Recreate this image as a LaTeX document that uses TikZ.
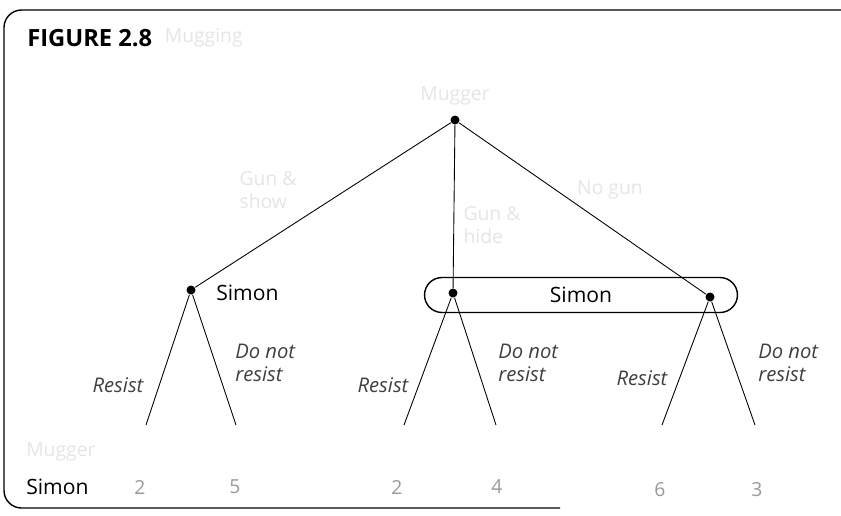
\documentclass[tikz,border=0pt]{standalone}
\usepackage{fontspec}
\setmainfont{Open Sans}
\usetikzlibrary{positioning}

\begin{document}
\begin{tikzpicture}[x=0.02cm,y=-0.02cm,line width=0.5pt,
   dot/.style={circle,fill,inner sep=0pt,minimum size=0.18cm},
   act/.style={font=\itshape\fontsize{11.5}{13}\selectfont,text=black!75,align=left},
   faint/.style={text=black!10,font=\fontsize{11}{13}\selectfont,align=left},
   pay/.style={font=\fontsize{11}{13}\selectfont,text=black!40},
   player/.style={font=\fontsize{12}{14}\selectfont}]
   \useasboundingbox (0,0) rectangle (841,515);
   \draw[line width=0.8pt,rounded corners=10pt] (841,10) -- (4,10) -- (4,508) -- (560,508);

   \node[anchor=west,font=\bfseries\fontsize{13.5}{16}\selectfont] (title) at (21,38) {FIGURE 2.8};
   \node[faint,anchor=west] (tname) [right=0pt of title] {Mugging};

   \node[dot] (m) at (455,120) {};
   \node[faint] (mlab) [above=2pt of m] {Mugger};
   \node[dot] (s1) at (191,290) {};
   \node[dot] (s2) at (453,293) {};
   \node[dot] (s3) at (710,297) {};
   \node[player,anchor=west] (s1lab) at (210,293) {Simon};
   \node[draw,line width=0.8pt,rounded corners=0.35cm,minimum width=6.26cm,
         minimum height=0.7cm,player] (info) at (581,295) {Simon};

   \coordinate (t1) at (146,425);
   \coordinate (t2) at (236,425);
   \coordinate (t3) at (404,425);
   \coordinate (t4) at (496,425);
   \coordinate (t5) at (662,425);
   \coordinate (t6) at (755,425);

   \path
    (m) edge (s1)
    (m) edge (s2)
    (m) edge (s3)
    (s1) edge (t1)
    (s1) edge (t2)
    (s2) edge (t3)
    (s2) edge (t4)
    (s3) edge (t5)
    (s3) edge (t6);

   \node[faint] (a1) at (268,190) {Gun \&\\show};
   \node[faint] (a2) at (492,225) {Gun \&\\hide};
   \node[faint] (a3) at (610,190) {No gun};

   \node[act] (r1) at (118,385) {Resist};
   \node[act,anchor=west] (d1) at (229,363) {Do not\\resist};
   \node[act] (r2) at (383,385) {Resist};
   \node[act,anchor=west] (d2) at (492,363) {Do not\\resist};
   \node[act] (r3) at (642,378) {Resist};
   \node[act,anchor=west] (d3) at (752,363) {Do not\\resist};

   \node[faint,anchor=west] (prow) at (20,452) {Mugger};
   \node[player,anchor=west] (srow) at (20,487) {Simon};
   \node[pay] (p1) at (140,487) {2};
   \node[pay] (p2) at (235,487) {5};
   \node[pay] (p3) at (397,487) {2};
   \node[pay] (p4) at (497,487) {4};
   \node[pay] (p5) at (660,490) {6};
   \node[pay] (p6) at (757,490) {3};
\end{tikzpicture}
\end{document}
